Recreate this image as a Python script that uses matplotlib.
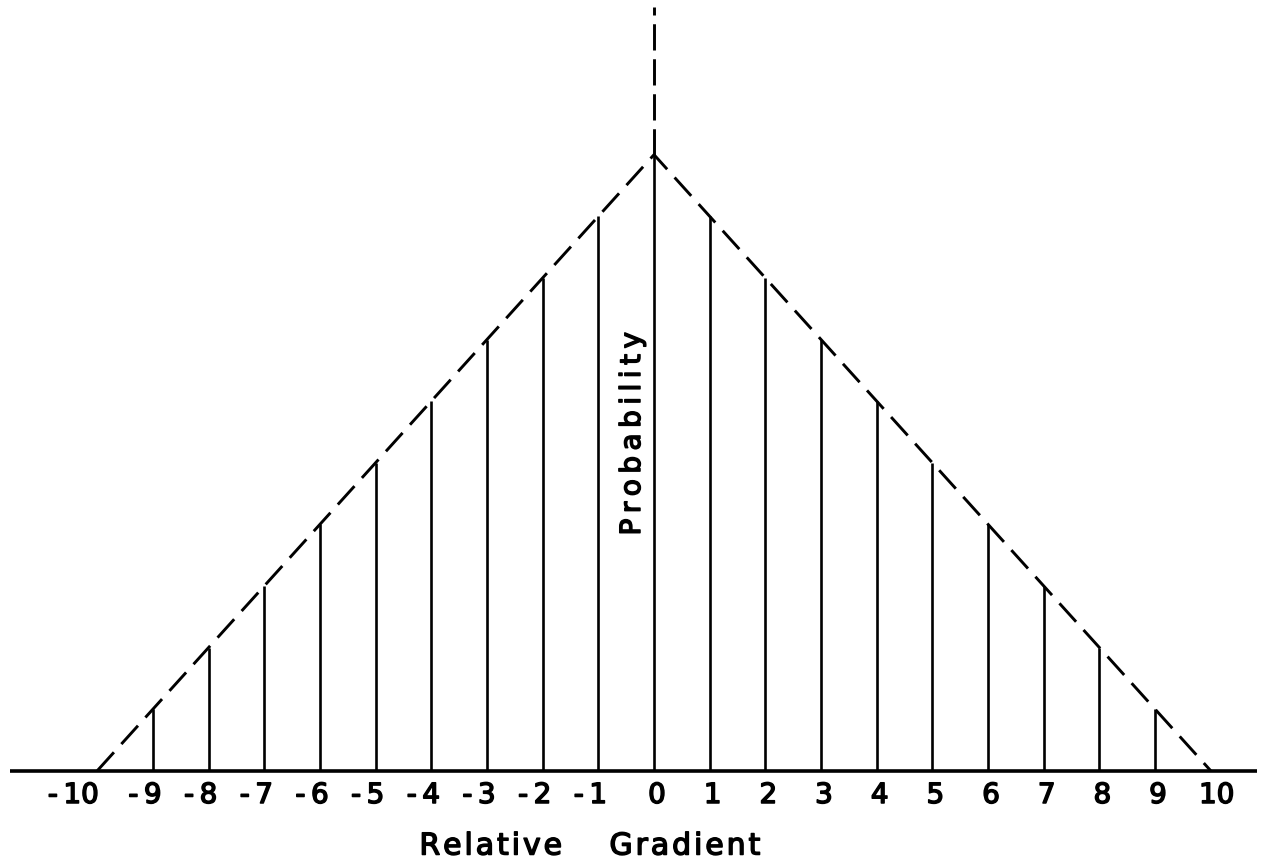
import matplotlib
matplotlib.use("Agg")
import matplotlib.pyplot as plt
from matplotlib.transforms import offset_copy
import matplotlib.patheffects as pe

# ---- data ----
gradients = [-9, -8, -7, -6, -5, -4, -3, -2, -1, 0, 1, 2, 3, 4, 5, 6, 7, 8, 9]
probability = [1, 2, 3, 4, 5, 6, 7, 8, 9, 10, 9, 8, 7, 6, 5, 4, 3, 2, 1]
envelope_x = [-10, 0, 10]
envelope_y = [0, 10, 0]
tick_values = list(range(-10, 11))
tick_labels = ["-10", "-9", "-8", "-7", "-6", "-5", "-4", "-3", "-2", "-1",
               "0", "1", "2", "3", "4", "5", "6", "7", "8", "9", "10"]

W, H, DPI = 1265, 868, 100
fig = plt.figure(figsize=(W / DPI, H / DPI), dpi=DPI)
ax = fig.add_axes([0, 0, 1, 1])

# pixel mapping
x0px, xstep = 654.0, 55.67
y0px, ystep = 770.7, 61.6
ax.set_xlim((0 - x0px) / xstep, (W - x0px) / xstep)
ax.set_ylim((y0px - H) / ystep, y0px / ystep)
ax.axis("off")

# baseline
ax.plot([(10 - x0px) / xstep, (1257 - x0px) / xstep], [0, 0], color="black",
        lw=2.6, solid_capstyle="butt")

# stems
ax.vlines(gradients, 0, probability, color="black", lw=1.9)

# dashed envelope
ax.plot(envelope_x, envelope_y, color="black", lw=2.1, dashes=(8.5, 3.8),
        dash_capstyle="butt")
# vertical dashed axis above peak
ax.plot([0, 0], [max(probability), (y0px - 7) / ystep], color="black", lw=2.1,
        dashes=(9.0, 3.0), dash_capstyle="butt")

thick = [pe.withStroke(linewidth=1.1, foreground="black")]
thin = "\u2009"
hair = "\u200a"

# tick labels
for v, lab in zip(tick_values, tick_labels):
    if v == -10:
        dx = -24
    elif v < 0:
        dx = -8
    elif v == 10:
        dx = 6
    else:
        dx = 3
    txt = lab.replace("-", "-" + thin)
    tr = offset_copy(ax.transData, fig=fig, x=dx, y=0, units="dots")
    ax.text(v, (y0px - 795) / ystep, txt, transform=tr, ha="center",
            va="center", fontsize=20, color="black", path_effects=thick)

ax.text((632 - x0px) / xstep, (y0px - 434) / ystep, thin.join("Probability"),
        rotation=90, ha="center", va="center", fontsize=20, color="black",
        path_effects=thick)
ax.text((590 - x0px) / xstep, (y0px - 846) / ystep,
        hair.join("Relative") + "     " + hair.join("Gradient"),
        ha="center", va="center", fontsize=21.5, color="black",
        path_effects=thick)

fig.savefig("out.png", dpi=DPI, facecolor="white")
